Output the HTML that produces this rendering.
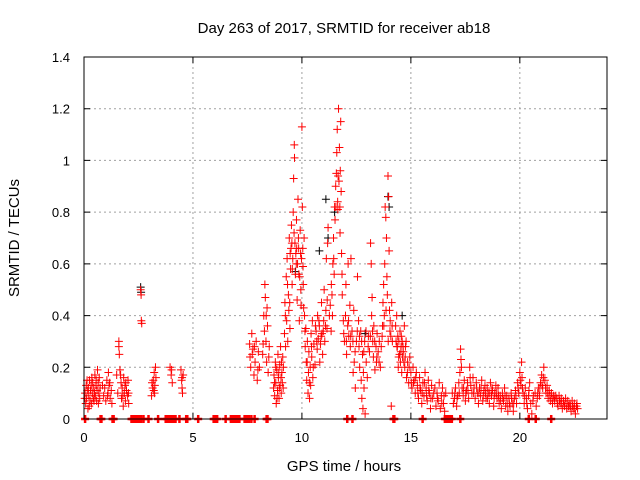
<!DOCTYPE html>
<html><head><meta charset="utf-8"><style>
body{margin:0;background:#fff;}
svg{display:block;font-family:"Liberation Sans",sans-serif;}
</style></head><body>
<svg id="chart" width="640" height="480" viewBox="0 0 640 480">
<rect width="640" height="480" fill="#fff"/>
<text x="344" y="33" font-size="15" text-anchor="middle" fill="#000">Day 263 of 2017, SRMTID for receiver ab18</text>
<text x="344" y="471" font-size="15" text-anchor="middle" fill="#000">GPS time / hours</text>
<text transform="translate(19,238) rotate(-90)" font-size="15" text-anchor="middle" fill="#000">SRMTID / TECUs</text>
<g id="grid"></g><g id="marks"></g><g id="axes"></g>
</svg>
<script>
const xTicks=[0,5,10,15,20];
const xTickLabels=["0","5","10","15","20"];
const yTicks=[0,0.2,0.4,0.6,0.8,1.0,1.2,1.4];
const yTickLabels=["0","0.2","0.4","0.6","0.8","1","1.2","1.4"];
const zeroHours=[0.05,0.76,0.8,1.31,1.36,2.18,2.24,2.3,2.36,2.41,2.48,2.55,2.62,2.73,2.96,3.4,3.75,3.82,3.9,3.98,4.06,4.13,4.2,4.38,4.69,4.74,5.24,5.95,6.03,6.11,6.5,6.74,6.8,6.85,6.91,6.97,7.05,7.13,7.37,7.44,7.5,7.57,7.68,7.83,8.38,8.42,12.08,12.32,14.2,14.24,15.54,16.56,16.64,16.72,16.8,16.88,17.27,20.41,20.73,21.44];
const blackPoints=[[2.6,.51],[2.62,.49],[11.1,.85],[11.2,.70],[13.95,.86],[14.0,.82],[12.9,.33],[10.8,.65],[9.7,.57],[14.6,.40],[11.5,.8]];
const redPoints=[
[0.05,.10],[0.08,.06],[0.1,.13],[0.12,.08],[0.15,.11],[0.18,.04],[0.2,.12],[0.22,.09],[0.25,.15],[0.28,.07],[0.3,.11],[0.33,.13],[0.35,.06],[0.38,.10],[0.4,.14],[0.42,.08],[0.45,.12],[0.48,.10],[0.5,.17],[0.52,.09],[0.55,.13],[0.58,.07],[0.6,.11],[0.62,.19],[0.65,.14],[0.68,.10],[0.7,.16],[0.72,.08],
[0.9,.09],[0.95,.12],[1.0,.07],[1.05,.15],[1.1,.10],[1.12,.18],[1.15,.13],[1.2,.08],[1.25,.11],[1.28,.06],
[1.5,.17],[1.55,.10],[1.6,.30],[1.62,.25],[1.65,.19],[1.7,.14],[1.72,.08],[1.75,.12],[1.8,.05],[1.82,.16],[1.85,.10],[1.88,.13],[1.9,.07],[1.95,.11],[2.0,.09],[2.02,.15],[2.05,.06],
[2.6,.50],[2.62,.48],[2.63,.38],[2.65,.37],
[3.1,.09],[3.15,.12],[3.18,.15],[3.2,.11],[3.22,.18],[3.25,.13],[3.28,.20],[3.3,.16],
[3.95,.20],[4.0,.17],[4.05,.14],[4.02,.19],
[4.45,.19],[4.48,.15],[4.5,.12],[4.52,.10],[4.55,.17],
[7.6,.29],[7.62,.24],[7.65,.20],[7.7,.33],[7.75,.27],[7.8,.17],[7.85,.22],[7.9,.30],[7.95,.15],[8.0,.26],[8.05,.20],
[8.2,.25],[8.25,.40],[8.28,.34],[8.3,.52],[8.32,.47],[8.35,.30],[8.38,.22],[8.4,.43],[8.42,.36],[8.45,.18],[8.5,.28],
[8.7,.12],[8.72,.17],[8.75,.09],[8.78,.22],[8.8,.14],[8.82,.06],[8.85,.19],[8.88,.11],[8.9,.25],[8.92,.16],[8.95,.08],[8.98,.21],[9.0,.13],[9.02,.28],[9.05,.10],[9.08,.18],[9.1,.14],[9.12,.24],[9.15,.20],
[9.2,.33],[9.22,.45],[9.25,.28],[9.28,.55],[9.3,.38],[9.32,.62],[9.35,.30],[9.38,.48],[9.4,.42],[9.42,.70],[9.45,.35],[9.48,.58],[9.5,.66],[9.52,.75],[9.55,.52],[9.58,.62],[9.6,.80],[9.62,.93],[9.65,1.06],[9.66,1.01],[9.68,.68],[9.7,.56],
[9.72,.64],[9.75,.77],[9.78,.46],[9.8,.60],[9.82,.85],[9.85,.66],[9.88,.38],[9.9,.55],[9.92,.73],[9.95,.50],[9.98,.62],[10.0,1.13],[10.02,.82],[10.05,.59],[10.08,.43],[10.1,.70],
[10.12,.40],[10.15,.28],[10.18,.35],[10.2,.22],[10.22,.15],[10.25,.30],[10.28,.10],[10.3,.18],[10.32,.26],[10.35,.08],[10.38,.20],[10.4,.13],[10.42,.33],[10.45,.24],[10.48,.38],[10.5,.16],[10.55,.29],[10.6,.21],
[10.65,.34],[10.7,.27],[10.72,.40],[10.75,.31],[10.8,.36],[10.82,.22],[10.85,.29],[10.9,.45],[10.92,.33],[10.95,.25],[11.0,.38],[11.02,.50],[11.05,.30],[11.1,.42],[11.12,.62],[11.15,.35],[11.18,.68],[11.2,.74],
[11.3,.44],[11.35,.52],[11.4,.40],[11.42,.60],[11.45,.70],[11.48,.56],[11.5,.82],[11.52,.77],[11.55,.90],[11.58,.95],[11.6,1.03],[11.62,1.12],[11.65,.81],[11.68,1.20],[11.7,.92],[11.72,1.05],[11.75,.72],[11.78,1.15],[11.8,.88],[11.82,.64],[11.85,.48],[11.9,.38],[11.95,.30],
[12.0,.40],[12.02,.52],[12.05,.25],[12.1,.36],[12.12,.60],[12.15,.32],[12.2,.44],[12.22,.28],[12.25,.62],[12.3,.34],[12.35,.18],[12.38,.42],[12.4,.22],[12.45,.12],[12.5,.30],[12.55,.55],[12.6,.38],
[12.62,.28],[12.65,.20],[12.7,.34],[12.72,.15],[12.75,.08],[12.78,.25],[12.8,.04],[12.82,.18],[12.85,.12],[12.88,.30],[12.9,.02],[12.95,.22],[13.0,.16],[13.05,.32],[13.1,.26],
[13.15,.68],[13.18,.60],[13.2,.40],[13.22,.47],[13.25,.30],[13.28,.24],[13.3,.36],[13.35,.19],[13.4,.28],[13.42,.22],[13.45,.33],[13.5,.26],[13.55,.30],[13.6,.20],
[13.7,.36],[13.72,.45],[13.75,.52],[13.78,.40],[13.8,.60],[13.82,.82],[13.85,.78],[13.88,.70],[13.9,.55],[13.92,.48],[13.95,.94],[13.98,.86],[14.0,.65],[14.02,.42],[14.05,.38],[14.08,.32],[14.1,.05],[14.12,.45],[14.15,.30],
[14.3,.36],[14.35,.40],[14.38,.28],[14.4,.32],[14.42,.20],[14.45,.30],[14.48,.25],[14.5,.34],[14.52,.22],[14.55,.28],[14.58,.18],[14.6,.30],[14.62,.24],[14.65,.26],[14.7,.36],[14.72,.20],[14.75,.28],[14.8,.16],[14.85,.22],[14.9,.14],[14.95,.24],[15.0,.18],
[15.05,.12],[15.1,.20],[15.15,.15],[15.2,.10],[15.25,.18],[15.3,.13],[15.35,.08],[15.4,.16],[15.45,.11],[15.5,.06],[15.55,.14],[15.6,.09],[15.65,.18],[15.7,.12],[15.75,.07],[15.8,.15],[15.85,.10],[15.9,.04],[15.95,.13],
[16.0,.08],[16.1,.12],[16.15,.05],[16.2,.10],[16.25,.07],[16.3,.14],[16.35,.04],[16.4,.09],[16.45,.12],[16.5,.06],[16.55,.03],[16.6,.10],
[16.9,.10],[16.95,.06],[17.0,.08],[17.05,.12],[17.1,.05],[17.15,.09],[17.2,.14],[17.25,.18],[17.28,.27],[17.3,.23],[17.32,.20],[17.35,.12],[17.4,.09],[17.45,.15],[17.5,.07],[17.55,.11],[17.6,.14],[17.65,.08],[17.7,.20],[17.75,.13],[17.8,.10],
[17.85,.16],[17.9,.12],[17.95,.08],[18.0,.14],[18.05,.10],[18.1,.06],[18.15,.12],[18.2,.09],[18.25,.15],[18.3,.07],[18.35,.11],[18.4,.13],[18.45,.08],[18.5,.12],[18.55,.10],[18.6,.06],[18.65,.14],[18.7,.09],[18.75,.11],[18.8,.05],[18.85,.10],[18.9,.13],[18.95,.08],[19.0,.12],[19.05,.06],[19.1,.09],[19.15,.04],[19.2,.10],[19.25,.07],[19.3,.12],[19.35,.05],[19.4,.09],[19.45,.03],
[19.5,.08],[19.55,.05],[19.6,.10],[19.65,.06],[19.7,.03],[19.75,.08],[19.8,.11],[19.85,.06],[19.9,.14],[19.95,.10],[20.0,.18],[20.05,.13],[20.08,.22],[20.1,.16],[20.15,.10],[20.2,.06],[20.25,.12],[20.3,.08],[20.35,.04],[20.4,.09],[20.45,.14],[20.5,.06],[20.55,.02],[20.6,.07],[20.7,.10],[20.75,.05],[20.8,.08],[20.85,.12],
[20.9,.09],[20.95,.14],[21.0,.17],[21.05,.12],[21.1,.20],[21.15,.15],[21.2,.10],[21.25,.13],[21.3,.08],[21.35,.11],[21.4,.07],[21.45,.10],[21.5,.06],[21.55,.09],[21.6,.07],[21.7,.08],[21.75,.05],[21.8,.09],[21.85,.06],[21.9,.08],[21.95,.04],[22.0,.07],[22.05,.05],[22.1,.08],[22.15,.04],[22.2,.07],[22.25,.05],[22.3,.06],[22.35,.03],[22.4,.07],[22.45,.04],[22.5,.06],[22.55,.02],[22.6,.05],[22.65,.04]
];
const redPointsExtra=[
[0.03,.08],[0.14,.15],[0.24,.05],[0.36,.16],[0.46,.07],[0.56,.15],[0.66,.06],[0.74,.12],[0.85,.13],[1.08,.09],[1.18,.14],[1.6,.28],[1.68,.17],[1.78,.09],[1.92,.14],[2.04,.10],[3.12,.14],[3.24,.10],[4.5,.16],
[7.72,.25],[7.82,.28],[7.98,.19],[8.22,.29],[8.36,.40],[8.48,.24],[8.74,.14],[8.8,.20],[8.86,.08],[8.94,.18],[8.96,.12],[9.04,.16],[9.06,.22],[9.14,.12],
[9.24,.40],[9.34,.52],[9.44,.45],[9.46,.64],[9.54,.68],[9.56,.58],[9.64,.72],[9.74,.60],[9.76,.66],[9.84,.70],[9.86,.56],[9.94,.64],[9.96,.44],[10.04,.66],[10.06,.52],
[10.14,.34],[10.24,.22],[10.34,.14],[10.44,.28],[10.52,.20],[10.62,.36],[10.68,.30],[10.78,.38],[10.88,.32],[10.98,.34],[11.08,.36],[11.16,.46],[11.26,.40],[11.34,.34],[11.38,.48],
[11.46,.62],[11.56,.82],[11.64,.84],[11.66,.94],[11.74,.82],[11.76,.96],[11.84,.56],[11.92,.33],[12.04,.30],[12.14,.38],[12.24,.32],[12.34,.30],[12.44,.26],[12.54,.34],[12.64,.32],
[12.74,.30],[12.84,.26],[12.94,.34],[13.04,.28],[13.14,.32],[13.24,.34],[13.34,.30],[13.44,.24],[13.54,.22],[13.64,.28],[13.68,.32],[13.76,.36],[13.86,.42],[13.96,.30],[14.04,.34],[14.14,.36],
[14.32,.30],[14.36,.28],[14.44,.24],[14.54,.26],[14.56,.32],[14.64,.28],[14.68,.22],[14.74,.24],[14.78,.30],[14.84,.18],[14.92,.20],[15.02,.14],[15.12,.14],[15.22,.16],[15.32,.10],[15.42,.12],
[15.52,.10],[15.62,.14],[15.72,.09],[15.82,.11],[15.92,.08],[16.05,.10],[16.22,.08],[16.42,.06],[16.52,.09],[17.02,.10],[17.12,.08],[17.22,.10],[17.42,.12],[17.52,.10],[17.62,.11],[17.72,.16],
[17.88,.10],[18.02,.12],[18.12,.10],[18.22,.12],[18.32,.09],[18.42,.10],[18.52,.08],[18.62,.10],[18.72,.12],[18.82,.08],[18.92,.10],[19.02,.09],[19.12,.07],[19.22,.08],[19.32,.09],[19.42,.06],
[19.52,.06],[19.62,.08],[19.72,.06],[19.82,.09],[19.92,.12],[20.02,.15],[20.12,.12],[20.22,.09],[20.32,.06],[20.42,.11],[20.62,.09],[20.82,.10],[20.92,.12],[21.02,.13],[21.08,.16],[21.18,.12],
[21.28,.10],[21.38,.09],[21.48,.08],[21.58,.08],[21.65,.09],[21.72,.06],[21.82,.07],[21.92,.06],[22.02,.06],[22.12,.06],[22.22,.05],[22.32,.05],[22.42,.05],[22.52,.04],[22.62,.06]
];
const L=84,R=607,T=57,B=419,XMAX=24,YMAX=1.4;
function xs(h){return L+(R-L)*h/XMAX;}
function ys(v){return B-(B-T)*v/YMAX;}
const NS="http://www.w3.org/2000/svg";
function mk(tag,attrs,parent){const e=document.createElementNS(NS,tag);for(const k in attrs)e.setAttribute(k,attrs[k]);parent.appendChild(e);return e;}
const grid=document.getElementById('grid'),marks=document.getElementById('marks'),axes=document.getElementById('axes');
xTicks.forEach((t,i)=>{const x=xs(t);
 if(t>0){const g=mk('line',{x1:x,x2:x,y1:T,y2:B,stroke:'#a0a0a0','stroke-dasharray':'2,3'},grid);
 
 }
 const tk=mk('path',{d:`M${x},${B}v-6M${x},${T}v6`,stroke:'#000'},axes);
 
 
 const lb=mk('text',{x:x,y:442,'font-size':13,'text-anchor':'middle'},axes);lb.textContent=xTickLabels[i];
 
 });
yTicks.forEach((t,i)=>{const y=ys(t);
 if(t>0&&t<YMAX){const g=mk('line',{x1:L,x2:R,y1:y,y2:y,stroke:'#a0a0a0','stroke-dasharray':'2,3'},grid);
 
 }
 const tk=mk('path',{d:`M${L},${y}h6M${R},${y}h-6`,stroke:'#000'},axes);
 
 
 const lb=mk('text',{x:70,y:y+5,'font-size':13,'text-anchor':'end'},axes);lb.textContent=yTickLabels[i];
 
 });
const fr=mk('rect',{x:L,y:T,width:R-L,height:B-T,fill:'none',stroke:'#000'},axes);


function cross(h,v,col,name,w){const x=xs(h),y=ys(v);
 const p=mk('path',{d:`M${x-4},${y}h8M${x},${y-4}v8`,stroke:col,'stroke-width':w},marks);
 
 }
blackPoints.forEach(p=>cross(p[0],p[1],'#000','black-point',1));
redPoints.forEach(p=>cross(p[0],p[1],'#ff0000','srmtid-point',1));
redPointsExtra.forEach(p=>cross(p[0],p[1],'#ff0000','srmtid-point',1));
zeroHours.forEach(h=>cross(h,0,'#ff0000','zero-point',2.5));
</script>
</body></html>
